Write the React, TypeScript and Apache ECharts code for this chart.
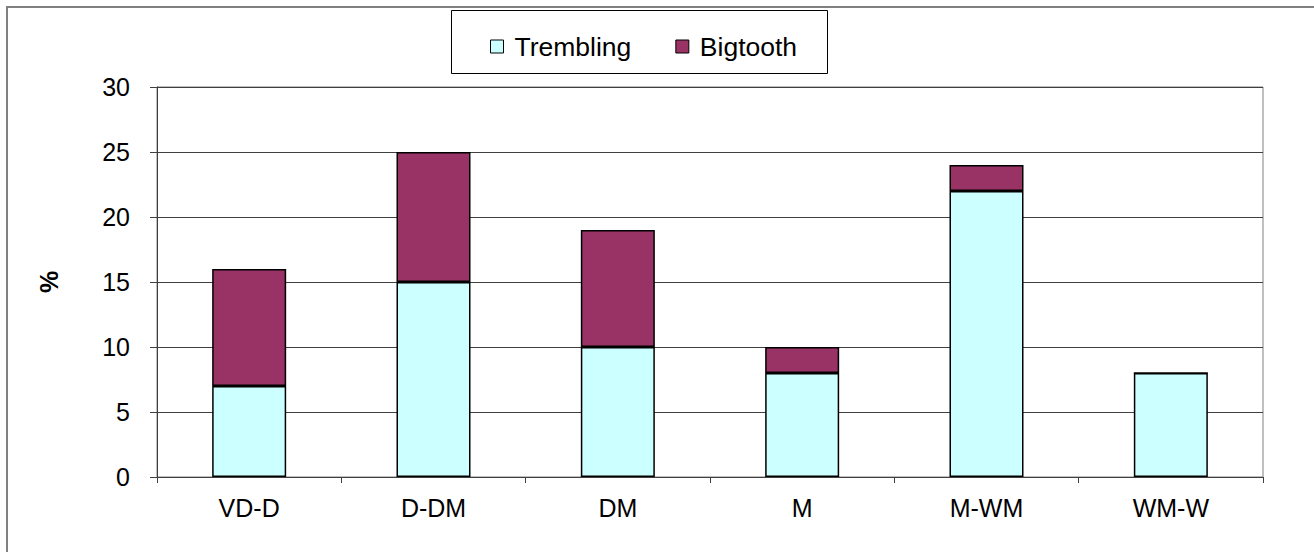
import React, { useEffect, useRef } from "react";
import * as echarts from "echarts";

const categories = ["VD-D", "D-DM", "DM", "M", "M-WM", "WM-W"];
const trembling = [7, 15, 10, 8, 22, 8];
const bigtooth = [9, 10, 9, 2, 2, 0];
const seriesNames = ["Trembling", "Bigtooth"];
const yAxisName = "%";

export default function App() {
  const ref = useRef<HTMLDivElement>(null);
  useEffect(() => {
    const chart = echarts.init(ref.current!, undefined, { renderer: "svg" });
    const font = "Arial, 'Liberation Sans', sans-serif";
    chart.setOption({
      animation: false,
      backgroundColor: "#ffffff",
      graphic: [
        {
          type: "rect",
          shape: { x: 7, y: 7, width: 1400, height: 700 },
          style: { fill: "none", stroke: "#808080", lineWidth: 2 },
          silent: true,
          z: 0,
        },
        {
          type: "rect",
          shape: { x: 451.5, y: 10.5, width: 376, height: 63 },
          style: { fill: "#ffffff", stroke: "#000000", lineWidth: 1 },
          silent: true,
          z: 1,
        },
      ],
      legend: {
        left: 485,
        top: 28,
        itemWidth: 13,
        itemHeight: 13,
        itemGap: 44,
        icon: "rect",
        itemStyle: { borderColor: "#000", borderWidth: 1 },
        textStyle: { fontFamily: font, fontSize: 26.5, color: "#000", padding: [0, 0, 0, 6] },
        data: seriesNames,
        z: 5,
      },
      grid: {
        left: 157,
        top: 87,
        right: 51,
        bottom: 75,
        show: true,
        borderColor: "#808080",
        borderWidth: 1,
        backgroundColor: "#ffffff",
      },
      xAxis: {
        type: "category",
        data: categories,
        axisLine: { lineStyle: { color: "#404040", width: 1 } },
        axisTick: { show: true, length: 6, inside: false, lineStyle: { color: "#404040" } },
        axisLabel: { fontFamily: font, fontSize: 25, color: "#000", margin: 18 },
        splitLine: { show: false },
      },
      yAxis: {
        type: "value",
        min: 0,
        max: 30,
        interval: 5,
        name: yAxisName,
        nameLocation: "middle",
        nameGap: 96,
        nameRotate: 90,
        nameTextStyle: { fontFamily: font, fontSize: 25, fontWeight: "bold", color: "#000" },
        axisLine: { show: true, lineStyle: { color: "#404040", width: 1 } },
        axisTick: { show: true, length: 7, lineStyle: { color: "#404040" } },
        axisLabel: { fontFamily: font, fontSize: 25, color: "#000", margin: 27 },
        splitLine: { show: true, lineStyle: { color: "#404040", width: 1 } },
      },
      series: [
        {
          name: seriesNames[0],
          type: "bar",
          stack: "total",
          barWidth: 74,
          data: trembling,
          itemStyle: { color: "#CCFFFF", borderColor: "#000", borderWidth: 1.5 },
        },
        {
          name: seriesNames[1],
          type: "bar",
          stack: "total",
          barWidth: 74,
          data: bigtooth,
          itemStyle: { color: "#993366", borderColor: "#000", borderWidth: 1.5 },
        },
      ],
    });
    return () => chart.dispose();
  }, []);
  return (
    <div
      ref={ref}
      style={{ position: "absolute", left: 0, top: 0, width: 1314, height: 552 }}
    />
  );
}
